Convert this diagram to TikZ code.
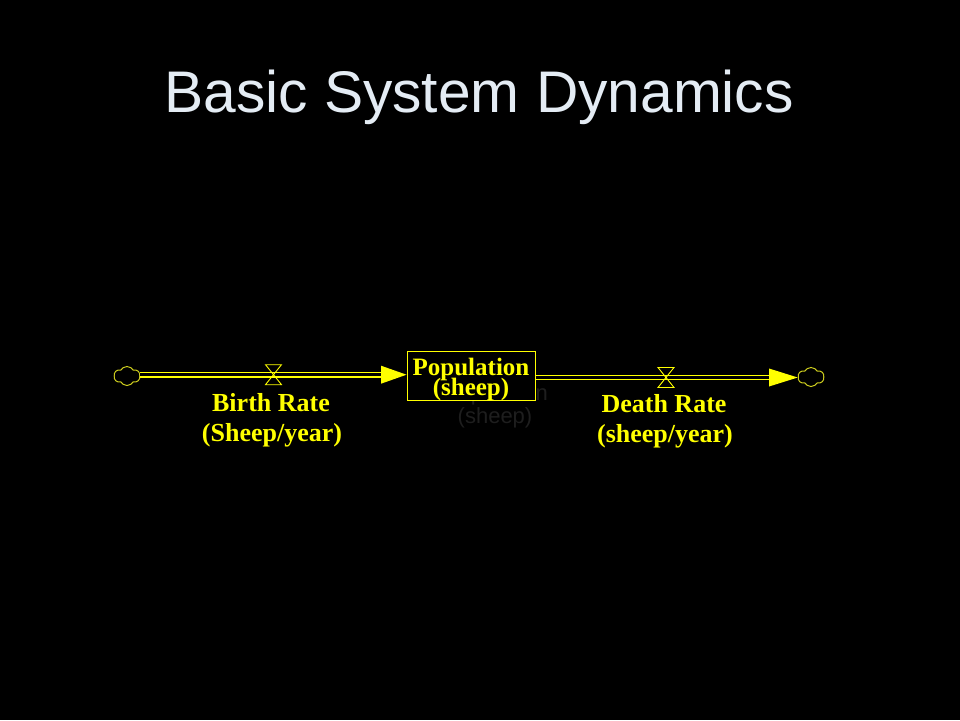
\documentclass[tikz,border=0pt]{standalone}
\usepackage{fontspec}
\setmainfont{Liberation Serif}
\newfontfamily\titlefont{Liberation Sans}
\usetikzlibrary{shapes.symbols,calc}
\definecolor{sdyellow}{RGB}{255,255,0}
\definecolor{cloudyel}{RGB}{205,205,30}
\definecolor{titlecol}{RGB}{228,236,244}
\definecolor{ghost}{RGB}{30,30,30}
\tikzset{
  lbl/.style={text=sdyellow, font=\bfseries\fontsize{26}{30}\selectfont, inner sep=0pt, anchor=base},
  poplbl/.style={text=sdyellow, font=\bfseries\fontsize{25}{28}\selectfont, inner sep=0pt, anchor=base},
  ghostlbl/.style={text=ghost, font=\titlefont\fontsize{22}{26}\selectfont, inner sep=0pt, anchor=base},
  sdcloud/.style={cloud, cloud puffs=6, cloud puff arc=120, aspect=1.4, draw=cloudyel, line width=1pt, fill=black, minimum width=26pt, minimum height=19pt, inner sep=0pt},
  pipe/.style={draw=sdyellow, double=black, double distance=3.2pt, line width=1.3pt},
  tip/.style={fill=sdyellow},
  valve/.style={draw=sdyellow, line width=0.9pt},
  stock/.style={draw=sdyellow, line width=1pt, fill=black, minimum width=128pt, minimum height=49pt, inner sep=0pt},
}
\begin{document}
\begin{tikzpicture}[x=1pt,y=-1pt]
\useasboundingbox[fill=black] (0,0) rectangle (960,720);
% title
\node[text=titlecol, font=\titlefont\fontsize{58.7}{66}\selectfont, inner sep=0pt, anchor=base] (title) at (479,112) {Basic System Dynamics};
% ghost shadow text
\node[ghostlbl] (ghostpop) at (496,400) {Population};
\node[ghostlbl] (ghostsheep) at (495,423) {(sheep)};
% clouds
\node[sdcloud] (cloudL) at (127,376) {};
\node[sdcloud] (cloudR) at (811,377) {};
% stock
\node[stock] (pop) at (471,375.5) {};
\node[poplbl] (poptxt1) at (471,375) {Population};
\node[poplbl] (poptxt2) at (471,395.5) {(sheep)};
% left pipe
\coordinate (arrL) at (381,374.7);
\draw[pipe] (cloudL.east |- arrL) -- (arrL);
\fill[tip] ($(arrL)+(0,-9)$) -- (pop.west |- arrL) -- ($(arrL)+(0,9)$) -- cycle;
% right pipe
\coordinate (arrR) at (769,377.5);
\draw[pipe] (pop.east |- arrR) -- (arrR);
\fill[tip] ($(arrR)+(0,-9)$) -- (cloudR.west |- arrR) -- ($(arrR)+(0,9)$) -- cycle;
% valves
\coordinate (valveL) at (273.5,374.7);
\coordinate (valveR) at (666,377.5);
\draw[valve] ($(valveL)+(-8,-10)$) -- ++(16,0) -- ++(-16,20) -- ++(16,0) -- cycle;
\draw[valve] ($(valveR)+(-8,-10)$) -- ++(16,0) -- ++(-16,20) -- ++(16,0) -- cycle;
% labels
\node[lbl] (birth1) at (271,411) {Birth Rate};
\node[lbl] (birth2) at (272,441) {(Sheep/year)};
\node[lbl] (death1) at (664,412) {Death Rate};
\node[lbl] (death2) at (665,442) {(sheep/year)};
\end{tikzpicture}
\end{document}
